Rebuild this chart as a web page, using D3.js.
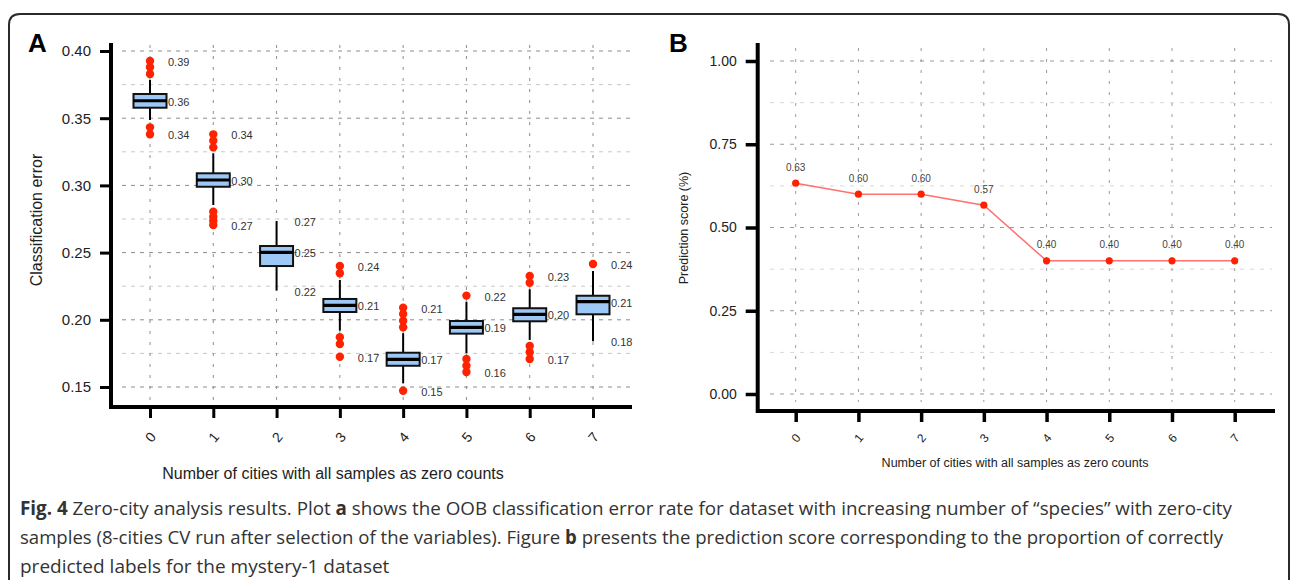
<!DOCTYPE html>
<html>
<head>
<meta charset="utf-8">
<script src="https://cdn.jsdelivr.net/npm/d3@7"></script>
<style>
  html, body { margin: 0; padding: 0; background: #fff; }
  svg { display: block; }
</style>
</head>
<body>
<svg id="chart" width="1293" height="580"></svg>
<script>
// ---------------- DATA ----------------
const categories = ["0", "1", "2", "3", "4", "5", "6", "7"];

// Panel A: box plots of OOB classification error
const q1 =      [0.3578, 0.2990, 0.2400, 0.2058, 0.1658, 0.1897, 0.1989, 0.2041];
const medians = [0.3630, 0.3040, 0.2502, 0.2108, 0.1706, 0.1944, 0.2041, 0.2135];
const q3 =      [0.3680, 0.3090, 0.2549, 0.2155, 0.1755, 0.1991, 0.2086, 0.2179];
const whiskLo = [0.3487, 0.2854, 0.2217, 0.1919, 0.1527, 0.1753, 0.1850, 0.1840];
const whiskHi = [0.3784, 0.3239, 0.2735, 0.2296, 0.1900, 0.2135, 0.2227, 0.2363];
const outliers = [
  [0.3926, 0.3879, 0.3829, 0.3432, 0.3380],
  [0.3380, 0.3333, 0.3283, 0.2804, 0.2767, 0.2737, 0.2705],
  [],
  [0.2400, 0.2346, 0.1870, 0.1820, 0.1725],
  [0.2090, 0.2043, 0.1993, 0.1944, 0.1472],
  [0.2180, 0.1708, 0.1658, 0.1612],
  [0.2326, 0.2276, 0.1805, 0.1758, 0.1708],
  [0.2415]
];
const ticksA = [0.15, 0.20, 0.25, 0.30, 0.35, 0.40];
const minorA = [0.175, 0.225, 0.275, 0.325, 0.375];

// Panel B: prediction score
const scores = [0.633, 0.600, 0.600, 0.567, 0.400, 0.400, 0.400, 0.400];
const ticksB = [0.00, 0.25, 0.50, 0.75, 1.00];
const minorB = [0.125, 0.375, 0.625, 0.875];

const xTitle = "Number of cities with all samples as zero counts";
const captionLines = [
  [["Fig. 4", true], [" Zero-city analysis results. Plot ", false], ["a", true], [" shows the OOB classification error rate for dataset with increasing number of \u201cspecies\u201d with zero-city", false]],
  [["samples (8-cities CV run after selection of the variables). Figure ", false], ["b", true], [" presents the prediction score corresponding to the proportion of correctly", false]],
  [["predicted labels for the mystery-1 dataset", false]]
];

// ---------------- DRAW ----------------
const svg = d3.select("#chart");
const FONT = "Liberation Sans, Arial, Helvetica, sans-serif";
const fmt2 = d3.format(".2f");

// frame
svg.append("path")
  .attr("d", "M9,600 L9,25 Q9,14 20,14 L1278,14 Q1289,14 1289,25 L1289,600")
  .attr("fill", "none").attr("stroke", "#2a2a2a").attr("stroke-width", 2);

// ===== Panel A =====
const xA = d3.scalePoint().domain(categories).range([150, 593]);
const yA = d3.scaleLinear().domain([0.15, 0.40]).range([387, 51]);
const gA = svg.append("g");

// grid
gA.selectAll(".minA").data(minorA).join("line")
  .attr("x1", 122).attr("x2", 630).attr("y1", d => yA(d)).attr("y2", d => yA(d))
  .attr("stroke", "#c8c8c8").attr("stroke-width", 1).attr("stroke-dasharray", "4,5");
gA.selectAll(".majA").data(ticksA).join("line")
  .attr("x1", 122).attr("x2", 630).attr("y1", d => yA(d)).attr("y2", d => yA(d))
  .attr("stroke", "#8c8c8c").attr("stroke-width", 1).attr("stroke-dasharray", "4,5");
gA.selectAll(".vA").data(categories).join("line")
  .attr("x1", d => xA(d)).attr("x2", d => xA(d)).attr("y1", 45).attr("y2", 400)
  .attr("stroke", "#8c8c8c").attr("stroke-width", 1).attr("stroke-dasharray", "3,8");

// axes lines (L frame)
gA.append("path").attr("d", "M111,43 L111,407 L632,407")
  .attr("fill", "none").attr("stroke", "#000").attr("stroke-width", 4);

// y axis ticks
const axYA = gA.append("g").attr("transform", "translate(111,0)")
  .call(d3.axisLeft(yA).tickValues(ticksA).tickFormat(fmt2).tickSize(11).tickPadding(9));
axYA.select(".domain").remove();
axYA.selectAll(".tick line").attr("stroke", "#000").attr("stroke-width", 3);
axYA.selectAll(".tick text").attr("font-family", FONT).attr("font-size", 15).attr("fill", "#222");

// x axis ticks
const axXA = gA.append("g").attr("transform", "translate(0,407)")
  .call(d3.axisBottom(xA).tickSize(11).tickPadding(0));
axXA.select(".domain").remove();
axXA.selectAll(".tick line").attr("stroke", "#000").attr("stroke-width", 3);
axXA.selectAll(".tick text")
  .attr("font-family", FONT).attr("font-size", 14).attr("fill", "#222")
  .attr("dy", null).attr("y", 0)
  .attr("text-anchor", "middle").attr("dominant-baseline", "central")
  .attr("transform", "translate(0,30) rotate(-50)");

// boxes
const bw = 33;
categories.forEach((c, i) => {
  const cx = xA(c);
  const g = gA.append("g");
  g.append("line").attr("x1", cx).attr("x2", cx).attr("y1", yA(whiskHi[i])).attr("y2", yA(q3[i]))
    .attr("stroke", "#000").attr("stroke-width", 2);
  g.append("line").attr("x1", cx).attr("x2", cx).attr("y1", yA(q1[i])).attr("y2", yA(whiskLo[i]))
    .attr("stroke", "#000").attr("stroke-width", 2);
  g.append("rect").attr("x", cx - bw / 2).attr("width", bw)
    .attr("y", yA(q3[i])).attr("height", yA(q1[i]) - yA(q3[i]))
    .attr("fill", "#9dc8f6").attr("stroke", "#111").attr("stroke-width", 2);
  g.append("line").attr("x1", cx - bw / 2).attr("x2", cx + bw / 2)
    .attr("y1", yA(medians[i])).attr("y2", yA(medians[i]))
    .attr("stroke", "#000").attr("stroke-width", 3.2);
  g.selectAll("circle").data(outliers[i]).join("circle")
    .attr("cx", cx).attr("cy", d => yA(d)).attr("r", 4.2).attr("fill", "#ff2200");
  const all = outliers[i].concat([whiskLo[i], whiskHi[i]]);
  const mx = d3.max(all), mn = d3.min(all);
  [mx, medians[i], mn].forEach(v => {
    g.append("text").attr("x", cx + 18).attr("y", yA(v) + 1)
      .attr("dominant-baseline", "central")
      .attr("font-family", FONT).attr("font-size", 11).attr("fill", "#333")
      .text(fmt2(v));
  });
});

// titles A
svg.append("text").attr("x", 28).attr("y", 52).attr("font-family", FONT)
  .attr("font-weight", "bold").attr("font-size", 26).attr("fill", "#000").text("A");
svg.append("text").attr("transform", "translate(42,220) rotate(-90)")
  .attr("text-anchor", "middle").attr("font-family", FONT).attr("font-size", 16).attr("fill", "#222")
  .text("Classification error");
svg.append("text").attr("x", 333).attr("y", 479).attr("text-anchor", "middle")
  .attr("font-family", FONT).attr("font-size", 16).attr("fill", "#222").text(xTitle);

// ===== Panel B =====
const xB = d3.scalePoint().domain(categories).range([795.7, 1234.7]);
const yB = d3.scaleLinear().domain([0, 1]).range([394, 61]);
const gB = svg.append("g");

gB.selectAll(".minB").data(minorB).join("line")
  .attr("x1", 770).attr("x2", 1272).attr("y1", d => yB(d)).attr("y2", d => yB(d))
  .attr("stroke", "#d8d8d8").attr("stroke-width", 1).attr("stroke-dasharray", "4,6");
gB.selectAll(".majB").data(ticksB).join("line")
  .attr("x1", 770).attr("x2", 1272).attr("y1", d => yB(d)).attr("y2", d => yB(d))
  .attr("stroke", "#9a9a9a").attr("stroke-width", 1).attr("stroke-dasharray", "4,6");
gB.selectAll(".vB").data(categories).join("line")
  .attr("x1", d => xB(d)).attr("x2", d => xB(d)).attr("y1", 48).attr("y2", 402)
  .attr("stroke", "#9a9a9a").attr("stroke-width", 1).attr("stroke-dasharray", "3,8");

gB.append("path").attr("d", "M757.7,43 L757.7,411 L1275,411")
  .attr("fill", "none").attr("stroke", "#000").attr("stroke-width", 4);

const axYB = gB.append("g").attr("transform", "translate(757.7,0)")
  .call(d3.axisLeft(yB).tickValues(ticksB).tickFormat(fmt2).tickSize(12).tickPadding(9));
axYB.select(".domain").remove();
axYB.selectAll(".tick line").attr("stroke", "#000").attr("stroke-width", 3.5);
axYB.selectAll(".tick text").attr("font-family", FONT).attr("font-size", 14).attr("fill", "#222");

const axXB = gB.append("g").attr("transform", "translate(0,411)")
  .call(d3.axisBottom(xB).tickSize(11).tickPadding(0));
axXB.select(".domain").remove();
axXB.selectAll(".tick line").attr("stroke", "#000").attr("stroke-width", 3.5);
axXB.selectAll(".tick text")
  .attr("font-family", FONT).attr("font-size", 12).attr("fill", "#222")
  .attr("dy", null).attr("y", 0)
  .attr("text-anchor", "middle").attr("dominant-baseline", "central")
  .attr("transform", "translate(0,27) rotate(-50)");

const line = d3.line().x((d, i) => xB(categories[i])).y(d => yB(d));
gB.append("path").datum(scores).attr("d", line)
  .attr("fill", "none").attr("stroke", "#ff7070").attr("stroke-width", 1.5);
gB.selectAll(".pt").data(scores).join("circle")
  .attr("cx", (d, i) => xB(categories[i])).attr("cy", d => yB(d)).attr("r", 3.6).attr("fill", "#ff2200");
gB.selectAll(".lbl").data(scores).join("text")
  .attr("x", (d, i) => xB(categories[i])).attr("y", d => yB(d) - 16)
  .attr("text-anchor", "middle").attr("dominant-baseline", "central")
  .attr("font-family", FONT).attr("font-size", 10).attr("fill", "#444")
  .text(d => fmt2(d));

svg.append("text").attr("x", 669).attr("y", 52).attr("font-family", FONT)
  .attr("font-weight", "bold").attr("font-size", 26).attr("fill", "#000").text("B");
svg.append("text").attr("transform", "translate(688,228) rotate(-90)")
  .attr("text-anchor", "middle").attr("font-family", FONT).attr("font-size", 12.5).attr("fill", "#222")
  .text("Prediction score (%)");
svg.append("text").attr("x", 1015).attr("y", 467).attr("text-anchor", "middle")
  .attr("font-family", FONT).attr("font-size", 12.5).attr("fill", "#222").text(xTitle);

// ===== Caption =====
const capY = [515, 544, 573];
const capW = [1212, 1203, null];
captionLines.forEach((parts, li) => {
  const t = svg.append("text").attr("x", 20).attr("y", capY[li])
    .attr("font-family", "Open Sans, Noto Sans, sans-serif").attr("font-size", 19).attr("fill", "#333");
  if (capW[li]) t.attr("textLength", capW[li]).attr("lengthAdjust", "spacingAndGlyphs");
  parts.forEach(([txt, bold]) => {
    t.append("tspan").attr("font-weight", bold ? "bold" : "normal").text(txt);
  });
});
</script>
</body>
</html>
